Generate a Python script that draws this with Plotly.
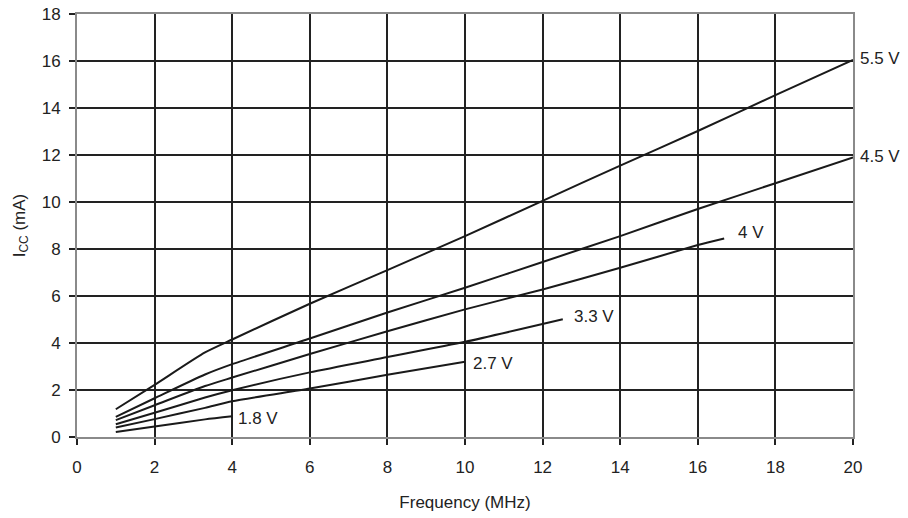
import plotly.graph_objects as go

# Frequency (MHz) and I_CC (mA)
freq_55 = [1, 2, 3.3, 4, 6, 8, 10, 12, 14, 16, 18, 20]
icc_55 = [1.18, 2.22, 3.6, 4.15, 5.67, 7.1, 8.55, 10.05, 11.55, 13.02, 14.55, 16.05]

freq_45 = [1, 2, 3.3, 4, 6, 8, 10, 12, 14, 16, 18, 20]
icc_45 = [0.86, 1.65, 2.66, 3.1, 4.19, 5.3, 6.35, 7.45, 8.55, 9.7, 10.8, 11.9]

freq_40 = [1, 2, 3.3, 4, 6, 8, 10, 12, 14, 16, 16.68]
icc_40 = [0.72, 1.35, 2.17, 2.53, 3.53, 4.5, 5.43, 6.28, 7.2, 8.17, 8.45]

freq_33 = [1, 2, 3.3, 4, 6, 8, 10, 12.52]
icc_33 = [0.54, 1.03, 1.68, 1.99, 2.75, 3.4, 4.05, 5.01]

freq_27 = [1, 2, 3.3, 4, 6, 8, 10]
icc_27 = [0.40, 0.76, 1.24, 1.52, 2.06, 2.65, 3.2]

freq_18 = [1, 2, 3.3, 4]
icc_18 = [0.21, 0.45, 0.75, 0.88]

series_names = ["5.5 V", "4.5 V", "4 V", "3.3 V", "2.7 V", "1.8 V"]
series_x = [freq_55, freq_45, freq_40, freq_33, freq_27, freq_18]
series_y = [icc_55, icc_45, icc_40, icc_33, icc_27, icc_18]

x_ticks = list(range(0, 21, 2))
y_ticks = list(range(0, 19, 2))

FS = 17

fig = go.Figure()
for name, xs, ys in zip(series_names, series_x, series_y):
    fig.add_trace(go.Scatter(x=xs, y=ys, mode="lines", name=name,
                             line=dict(color="#1a1a1a", width=2, shape="spline", smoothing=0.6),
                             showlegend=False))

# Labels at line ends
label_offsets = {"5.5 V": (5, 1), "4.5 V": (5, 1), "4 V": (12, 6),
                 "3.3 V": (9, 3), "2.7 V": (6, -2), "1.8 V": (4, -2)}
for name, xs, ys in zip(series_names, series_x, series_y):
    dx, dy = label_offsets[name]
    fig.add_annotation(x=xs[-1], y=ys[-1], text=name, showarrow=False,
                       xanchor="left", yanchor="middle", xshift=dx, yshift=dy,
                       font=dict(size=FS, color="#222"))

axis_common = dict(showgrid=True, gridcolor="#222222", gridwidth=2,
                   showline=True, linecolor="#8a8a8a", linewidth=2, mirror=True,
                   ticks="outside", ticklen=6, tickwidth=1.5, tickcolor="#222",
                   zeroline=False, automargin=False, ticklabeloverflow="allow",
                   tickfont=dict(size=FS, color="#222"))

fig.update_xaxes(range=[0, 20], tickvals=x_ticks, ticklabelstandoff=8,
                 title=dict(text="Frequency (MHz)", font=dict(size=FS, color="#222"), standoff=20),
                 **axis_common)
fig.update_yaxes(range=[0, 18], tickvals=y_ticks, ticklabelstandoff=5,
                 title=dict(text="I<sub>CC</sub> (mA)", font=dict(size=FS, color="#222"), standoff=12),
                 **axis_common)

fig.update_layout(width=908, height=518,
                  margin=dict(l=77, r=55, t=14, b=81),
                  plot_bgcolor="white", paper_bgcolor="white",
                  font=dict(family="Liberation Sans, Arial, sans-serif", size=FS, color="#222"))

# remove the default 8px page margin so the figure fills the window
fig.write_html("out.html", config={"displayModeBar": False},
               post_script="document.body.style.margin='0';")
